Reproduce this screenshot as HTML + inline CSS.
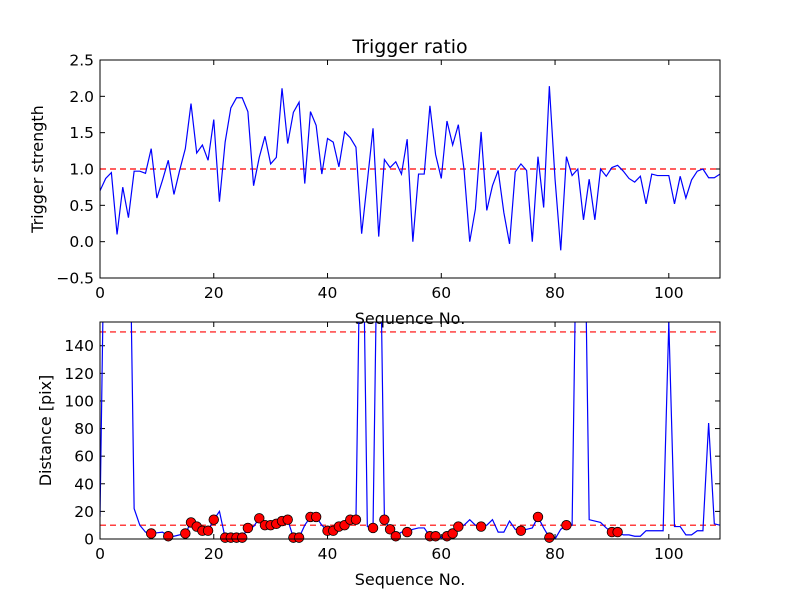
<!DOCTYPE html>
<html><head><meta charset="utf-8"><style>
body{margin:0;background:#fff;}
svg text{font-family:"DejaVu Sans","Liberation Sans",sans-serif;fill:#000;}
</style></head><body>
<svg id="chart" width="800" height="600" xmlns="http://www.w3.org/2000/svg">
<rect width="800" height="600" fill="#fff"/>
<defs>
<clipPath id="c1"><rect x="100" y="60" width="620" height="218"/></clipPath>
<clipPath id="c2"><rect x="100" y="322" width="620" height="217"/></clipPath>
</defs>
<g id="top"></g>
<g id="bot"></g>
</svg>
<script>
const ratio=[0.7,0.87,0.95,0.1,0.75,0.33,0.97,0.97,0.94,1.28,0.6,0.85,1.12,0.65,0.98,1.28,1.9,1.22,1.33,1.12,1.68,0.55,1.37,1.84,1.98,1.98,1.79,0.77,1.16,1.45,1.07,1.16,2.11,1.35,1.78,1.92,0.8,1.79,1.6,0.93,1.42,1.37,1.03,1.51,1.43,1.3,0.11,0.83,1.56,0.07,1.13,1.02,1.1,0.93,1.41,0.0,0.93,0.93,1.87,1.2,0.87,1.66,1.33,1.61,0.99,0.0,0.45,1.51,0.43,0.77,0.98,0.4,-0.03,0.96,1.07,0.98,0.0,1.17,0.47,2.14,0.86,-0.12,1.17,0.91,1.0,0.3,0.86,0.3,1.0,0.9,1.02,1.05,0.97,0.87,0.82,0.9,0.52,0.93,0.91,0.91,0.91,0.52,0.9,0.6,0.85,0.97,1.0,0.88,0.88,0.93];
const dist=[16,300,300,300,300,300,22,10,5,4,4.5,5,2,2,3,4,12,9,6,6,14,20,1,1,1,1,8,9,15,10,10,11,13,14,1,1,10,16,16,10,6,6,9,10,14,14,300,9,8,300,14,7,2,5,5,7,8,8,2,2,1,2,4,9,10,14,10,9,10,14,5,5,13,7,6,7,8,16,8,1,0,7,10,10,300,300,14,13,12,8,5,5,3,3,2,2,6,6,6,6,157,9,9,3,3,6,6,84,11,10];
const marked=[9,12,15,16,17,18,19,20,22,23,24,25,26,28,29,30,31,32,33,34,35,37,38,40,41,42,43,44,45,48,50,51,52,54,58,59,61,62,63,67,74,77,79,82,90,91];
const topTicksY=[-0.5,0,0.5,1,1.5,2,2.5];
const botTicksY=[0,20,40,60,80,100,120,140];
const ticksX=[0,20,40,60,80,100];
const NS="http://www.w3.org/2000/svg";
function mk(p,t,a){const e=document.createElementNS(NS,t);for(const k in a)e.setAttribute(k,a[k]);p.appendChild(e);return e;}
const L=100,R=720;
const xs=i=>L+i*(R-L)/109;
function axes(g,T,B,ys,ymin,ymax,fmt,ylab,tid){
  const yv=v=>B-(v-ymin)*(B-T)/(ymax-ymin);
  ticksX.forEach(t=>{const x=xs(t);
    let l=mk(g,'line',{x1:x,x2:x,y1:B,y2:B-5,stroke:'#000'});
    mk(g,'line',{x1:x,x2:x,y1:T,y2:T+5,stroke:'#000'});
    const tx=mk(g,'text',{x:x,y:B+20,'font-size':15.5,'text-anchor':'middle'});tx.textContent=t;
    });
  ys.forEach(t=>{const y=yv(t);
    mk(g,'line',{x1:L,x2:L+5,y1:y,y2:y,stroke:'#000'});mk(g,'line',{x1:R,x2:R-5,y1:y,y2:y,stroke:'#000'});
    const tx=mk(g,'text',{x:L-6,y:y+5.5,'font-size':15.5,'text-anchor':'end'});tx.textContent=fmt(t).replace('-','\u2212');
    });
  const yl=mk(g,'text',{x:0,y:0,'font-size':16,'text-anchor':'middle',transform:`translate(${tid=='t'?43:51},${(T+B)/2}) rotate(-90)`});yl.textContent=ylab;
  
  const xl=mk(g,'text',{x:(L+R)/2,y:B+46,'font-size':16,'text-anchor':'middle'});xl.textContent='Sequence No.';
  
  return yv;
}
const gt=document.getElementById('top');
const yt=axes(gt,60,278,topTicksY,-0.5,2.5,v=>v.toFixed(1),'Trigger strength','t');
const ti=mk(gt,'text',{x:410,y:53,'font-size':19,'text-anchor':'middle'});ti.textContent='Trigger ratio';

const tl=mk(gt,'line',{x1:L,x2:R,y1:yt(1),y2:yt(1),stroke:'red','stroke-dasharray':'6,4','stroke-width':1.2});

const p1=mk(gt,'polyline',{points:ratio.map((v,i)=>xs(i)+','+yt(v)).join(' '),fill:'none',stroke:'#0000ff','stroke-width':1.2,'clip-path':'url(#c1)'});

mk(gt,'rect',{x:L,y:60,width:R-L,height:218,fill:'none',stroke:'#000','stroke-width':1});

const gb=document.getElementById('bot');
const yb=axes(gb,322,539,botTicksY,0,157.2,v=>String(v),'Distance [pix]','b');
[10,150].forEach(v=>{const l=mk(gb,'line',{x1:L,x2:R,y1:yb(v),y2:yb(v),stroke:'red','stroke-dasharray':'6,4','stroke-width':1.2});
  });
const p2=mk(gb,'polyline',{points:dist.map((v,i)=>xs(i)+','+yb(v)).join(' '),fill:'none',stroke:'#0000ff','stroke-width':1.2,'clip-path':'url(#c2)'});

marked.forEach(i=>{const c=mk(gb,'circle',{cx:xs(i),cy:yb(dist[i]),r:4.8,fill:'red',stroke:'#000','stroke-width':0.8});
  });
mk(gb,'rect',{x:L,y:322,width:R-L,height:217,fill:'none',stroke:'#000','stroke-width':1});
</script>
</body></html>
